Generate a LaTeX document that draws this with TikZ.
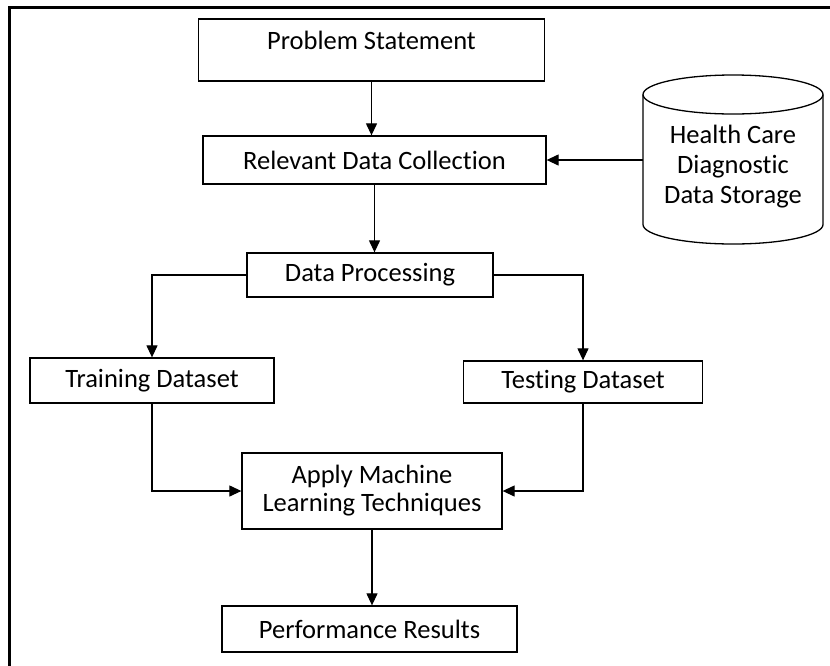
\documentclass[tikz,border=0pt]{standalone}
\usepackage{fontspec}
\setmainfont{Carlito}[Ligatures={NoCommon,NoContextual}]
\usetikzlibrary{arrows.meta,calc}
\begin{document}
\begin{tikzpicture}[x=1pt,y=-1pt,
  box/.style={draw, line width=1.3pt, rectangle, align=center, inner sep=0pt,
    font=\fontsize{26.5}{28}\selectfont},
  link/.style={line width=1.2pt},
  arr/.style={link, -{Triangle[length=12pt,width=11pt]}}]
  \useasboundingbox (0,0) rectangle (830,665);
  % outer frame
  \draw[line width=3pt] (9.5,670) -- (9.5,7.5) -- (835,7.5);

  % process boxes
  \node[box, minimum width=346pt, minimum height=62pt, text depth=20pt] (prob) at (371.5,50) {Problem Statement};
  \node[box, minimum width=343pt, minimum height=48pt] (rdc) at (374.5,160) {Relevant Data Collection};
  \node[box, minimum width=246pt, minimum height=44pt] (dp) at (370,275) {Data Processing};
  \node[box, minimum width=244pt, minimum height=45pt] (train) at (152,380.5) {Training Dataset};
  \node[box, minimum width=239pt, minimum height=42pt] (test) at (583,382) {Testing Dataset};
  \node[box, minimum width=260pt, minimum height=76pt] (ml) at (372,491) {Apply Machine\\Learning Techniques};
  \node[box, minimum width=295pt, minimum height=46pt] (perf) at (369.5,629) {Performance Results};

  % data store: label, with the cylinder drawn around it
  \node[box, draw=none, font=\fontsize{26.5}{30}\selectfont] (store) at (733,167)
    {Health Care\\Diagnostic\\Data Storage};
  \path ($(store.center)+(-90,-72.5)$) coordinate (tl)
        ($(store.center)+(90,-72.5)$)  coordinate (tr)
        ($(store.center)+(-90,57.5)$)  coordinate (bl)
        ($(store.center)+(90,57.5)$)   coordinate (br);
  \draw[line width=1.3pt] ($(tl)!0.5!(tr)$) ellipse [x radius=90pt, y radius=19.5pt];
  \draw[line width=1.3pt] (tl) -- (bl) arc[start angle=180, end angle=360, x radius=90pt, y radius=19.5pt] -- (tr);

  % connectors
  \draw[arr] (prob.south) -- (rdc.north -| prob.south);
  \draw[arr] (tl |- rdc.east) -- (rdc.east);
  \draw[arr] (rdc.south) -- (rdc.south |- dp.north);
  \draw[arr] (dp.west) -| (train.north);
  \draw[arr] (dp.east) -| (test.north);
  \draw[arr] (train.south) |- (ml.west);
  \draw[arr] (test.south) |- (ml.east);
  \draw[arr] (ml.south) -- (ml.south |- perf.north);
\end{tikzpicture}
\end{document}
